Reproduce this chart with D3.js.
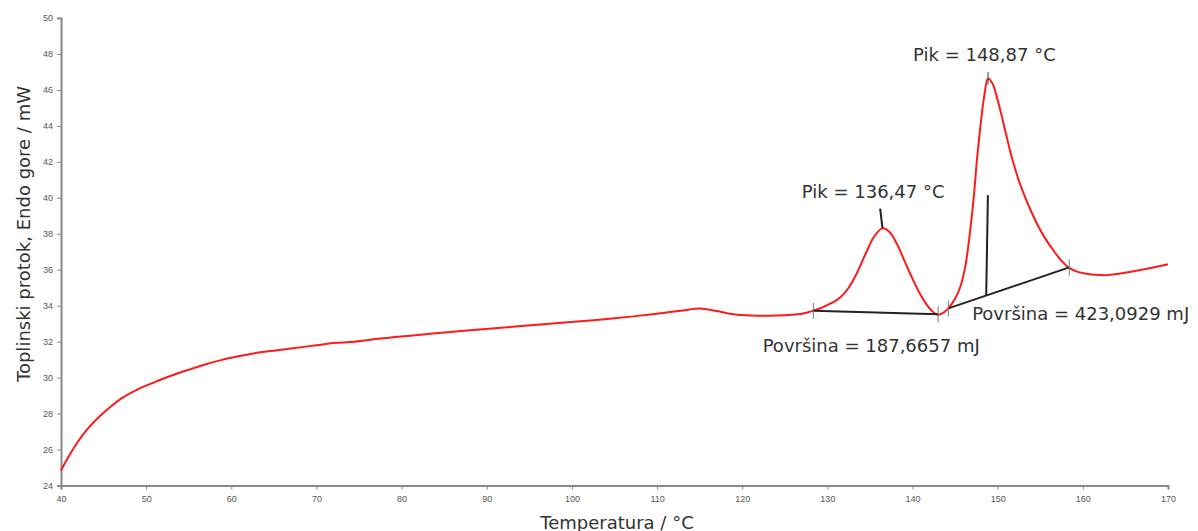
<!DOCTYPE html>
<html>
<head>
<meta charset="utf-8">
<script src="https://cdn.jsdelivr.net/npm/d3@7"></script>
<style>
  html, body { margin: 0; padding: 0; background: #fff; }
  svg { display: block; }
  .tick text { font-family: "Liberation Sans Narrow", "Liberation Sans", Arial, sans-serif; font-size: 9px; fill: #555; }
  .title, .ann { font-family: "DejaVu Sans", Verdana, sans-serif; font-size: 18px; fill: #333; }
</style>
</head>
<body>
<svg id="chart" width="1198" height="531"></svg>
<script>
// Temperature (°C)
const temperature = [40.0, 41.0, 42.0, 43.0, 44.0, 45.0, 46.0, 47.1, 49.0, 51.0, 53.0, 55.0, 57.0, 59.0,
  61.0, 63.0, 65.0, 67.0, 70.0, 72.0, 74.5, 77.5, 81.0, 86.0, 91.0, 96.25, 101.0, 105.0, 110.0, 113.0, 115.0,
  117.0, 119.0, 121.0, 124.0, 127.0, 128.35, 129.5, 130.5, 131.5, 132.5, 133.5, 134.5, 135.5, 136.47, 137.3,
  138.2, 139.0, 140.0, 141.0, 142.0, 142.6, 143.0, 143.6, 144.2, 145.0, 145.6, 146.2, 146.75, 147.2, 147.6,
  148.0, 148.4, 148.87, 149.4, 149.9, 150.5, 151.1, 151.8, 152.6, 153.6, 154.6, 155.5, 156.5, 157.4, 158.4,
  159.4, 160.45, 161.5, 162.8, 164.0, 165.15, 167.5, 170.0];
// Heat flow, endo up (mW)
const heatFlow = [24.85, 25.7, 26.45, 27.08, 27.6, 28.05, 28.45, 28.85, 29.35, 29.75, 30.12, 30.44, 30.74, 31.0,
  31.2, 31.38, 31.5, 31.62, 31.8, 31.92, 32.0, 32.17, 32.33, 32.55, 32.75, 32.95, 33.13, 33.3, 33.55, 33.73, 33.84,
  33.7, 33.52, 33.45, 33.45, 33.55, 33.72, 33.92, 34.15, 34.45, 35.0, 35.85, 36.9, 37.85, 38.3, 38.1,
  37.4, 36.55, 35.5, 34.55, 33.85, 33.58, 33.5, 33.6, 33.85, 34.4, 35.04, 36.2, 38.1, 40.1, 42.3,
  44.1, 45.6, 46.64, 46.35, 45.6, 44.5, 43.3, 42.0, 40.8, 39.6, 38.57, 37.8, 37.1, 36.55, 36.1,
  35.88, 35.78, 35.72, 35.7, 35.76, 35.84, 36.05, 36.3];

const xTicks = [40, 50, 60, 70, 80, 90, 100, 110, 120, 130, 140, 150, 160, 170];
const yTicks = [24, 26, 28, 30, 32, 34, 36, 38, 40, 42, 44, 46, 48, 50];

// Integration baselines [T, mW]
const baseline1 = [[128.35, 33.72], [143.0, 33.52]];
const baseline2 = [[144.2, 33.85], [158.4, 36.13]];
// Tick marks at baseline limits (temperature, mW)
const limitMarks = [[128.35, 33.72], [143.0, 33.52], [144.2, 33.85], [158.4, 36.13]];
// Peak markers / area line
const peak1Marker = [[136.2, 39.4], [136.47, 38.3]];
const peak2Marker = [[148.87, 47.0], [148.87, 46.3]];
const areaLine2 = [[148.85, 40.15], [148.65, 34.55]];

const annotations = [
  { text: "Pik = 148,87 °C", t: 140.06, v: 47.6 },
  { text: "Pik = 136,47 °C", t: 127.0, v: 40.0 },
  { text: "Površina = 423,0929 mJ", t: 147.0, v: 33.2 },
  { text: "Površina = 187,6657 mJ", t: 122.4, v: 31.4 }
];

const svg = d3.select("#chart");
const x = d3.scaleLinear().domain([40, 170]).range([61, 1168]);
const y = d3.scaleLinear().domain([24, 50]).range([485.5, 18]);

// Axes
const xAxis = svg.append("g").attr("transform", `translate(0,${y(24)})`)
  .call(d3.axisBottom(x).tickValues(xTicks).tickSize(4).tickPadding(6).tickFormat(d3.format("d")));
const yAxis = svg.append("g").attr("transform", `translate(${x(40)},0)`)
  .call(d3.axisLeft(y).tickValues(yTicks).tickSize(4).tickPadding(4).tickFormat(d3.format("d")));
[xAxis, yAxis].forEach(g => {
  g.select(".domain").attr("stroke", "#888").attr("stroke-width", 2);
  g.selectAll(".tick line").attr("stroke", "#888");
});

// Curve
const pts = temperature.map((t, i) => [t, heatFlow[i]]);
svg.append("path")
  .datum(pts)
  .attr("fill", "none")
  .attr("stroke", "#ff1a1a")
  .attr("stroke-width", 2)
  .attr("d", d3.line().x(d => x(d[0])).y(d => y(d[1])).curve(d3.curveCatmullRom.alpha(0.5)));

// Baselines and markers
const seg = d3.line().x(d => x(d[0])).y(d => y(d[1]));
[baseline1, baseline2, peak1Marker, areaLine2].forEach(s => {
  svg.append("path").datum(s).attr("fill", "none").attr("stroke", "#222").attr("stroke-width", 2).attr("d", seg);
});
svg.append("path").datum(peak2Marker).attr("fill", "none").attr("stroke", "#444").attr("stroke-width", 1).attr("d", seg);

svg.selectAll("line.limit").data(limitMarks).enter().append("line")
  .attr("class", "limit")
  .attr("x1", d => x(d[0])).attr("x2", d => x(d[0]))
  .attr("y1", d => y(d[1]) - 8).attr("y2", d => y(d[1]) + 8)
  .attr("stroke", "#777").attr("stroke-width", 1);

// Annotations
svg.selectAll("text.ann").data(annotations).enter().append("text")
  .attr("class", "ann")
  .attr("x", d => x(d.t)).attr("y", d => y(d.v))
  .text(d => d.text);

// Axis titles
svg.append("text").attr("class", "title")
  .attr("x", 617).attr("y", 529).attr("text-anchor", "middle")
  .text("Temperatura / °C");
svg.append("text").attr("class", "title")
  .attr("transform", "translate(30,234) rotate(-90)").attr("text-anchor", "middle")
  .text("Toplinski protok, Endo gore / mW");
</script>
</body>
</html>
